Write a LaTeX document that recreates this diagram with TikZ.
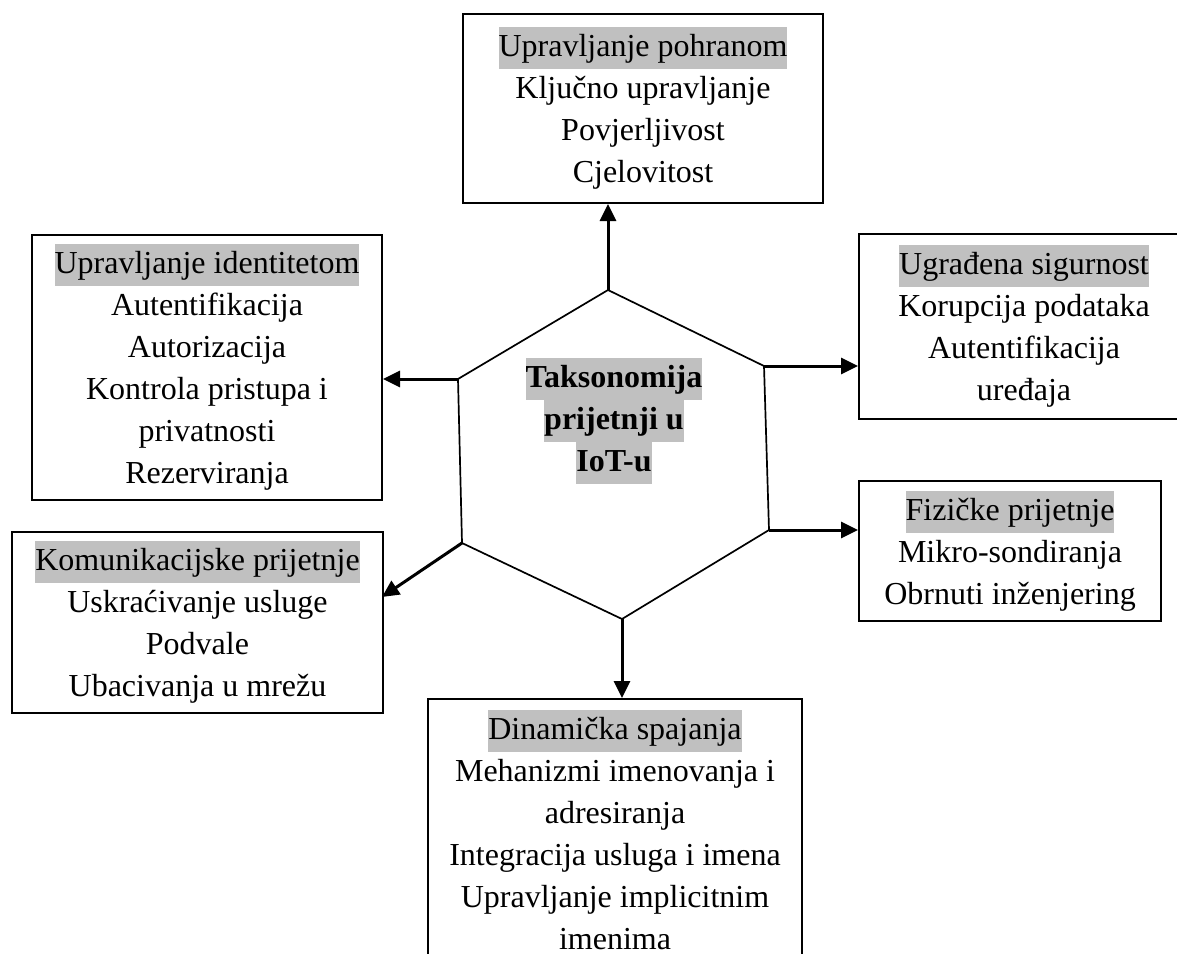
\documentclass[tikz,border=0pt]{standalone}
\usepackage{fontspec}
\setmainfont{Liberation Serif}
\usepackage{tikz}
\usetikzlibrary{arrows.meta}
\usepackage{xcolor}

\definecolor{hlgray}{RGB}{192,192,192}
\newcommand{\hilite}[1]{{\setlength{\fboxsep}{0pt}\colorbox{hlgray}{\strut #1}}}

\begin{document}
\begin{tikzpicture}[x=1pt, y=-1pt,
                  box/.style={draw, line width=2pt, inner sep=0pt, align=center,
                              anchor=north west, font=\fontsize{32}{42}\selectfont},
                  arr/.style={line width=3pt, -{Triangle[length=17pt, width=16pt]}},
            ]
            \path[use as bounding box, clip] (0,0) rectangle (1177,953);

            % Hexagon corners
            \coordinate (hT)  at (608,290);
            \coordinate (hUR) at (764,366);
            \coordinate (hLR) at (769,530);
            \coordinate (hB)  at (622,619);
            \coordinate (hLL) at (462,543);
            \coordinate (hUL) at (458,379);
            \draw[line width=1.7pt] (hT) -- (hUR) -- (hLR) -- (hB) -- (hLL) -- (hUL) -- cycle;

            \node[font=\fontsize{32}{42}\selectfont\bfseries, align=center] (title) at (614,421)
            {\hilite{Taksonomija}\\\hilite{prijetnji u}\\\hilite{IoT-u}};

            % Threat boxes
            \foreach \n/\x/\y/\w/\h/\txt in {
                  storage/462/13/360/189/{\hilite{Upravljanje pohranom}\\Ključno upravljanje\\Povjerljivost\\Cjelovitost},
                  identity/31/234/350/265/{\hilite{Upravljanje identitetom}\\Autentifikacija\\Autorizacija\\Kontrola pristupa i\\privatnosti\\Rezerviranja},
                  embedded/858/233/330/185/{\hilite{Ugrađena sigurnost}\\Korupcija podataka\\Autentifikacija\\uređaja},
                  physical/858/480/302/140/{\hilite{Fizičke prijetnje}\\Mikro-sondiranja\\Obrnuti inženjering},
                  comm/11/531/371/181/{\hilite{Komunikacijske prijetnje}\\Uskraćivanje usluge\\Podvale\\Ubacivanja u mrežu},
                  dynamic/427/698/374/262/{\hilite{Dinamička spajanja}\\Mehanizmi imenovanja i\\adresiranja\\Integracija usluga i imena\\Upravljanje implicitnim\\imenima}}{
                  \node[box, minimum width=\w pt, minimum height=\h pt] (\n) at (\x,\y) {\txt};
                  }

            % Arrows out of the hexagon
            \coordinate (commIn) at (382,597);
            \draw[arr] (hT) -- (hT |- storage.south);
            \draw[arr] (hUL) -- (hUL -| identity.east);
            \draw[arr] (hUR) -- (hUR -| embedded.west);
            \draw[arr] (hLR) -- (hLR -| physical.west);
            \draw[arr] (hLL) -- (commIn);
            \draw[arr] (hB) -- (hB |- dynamic.north);
      \end{tikzpicture}
\end{document}
